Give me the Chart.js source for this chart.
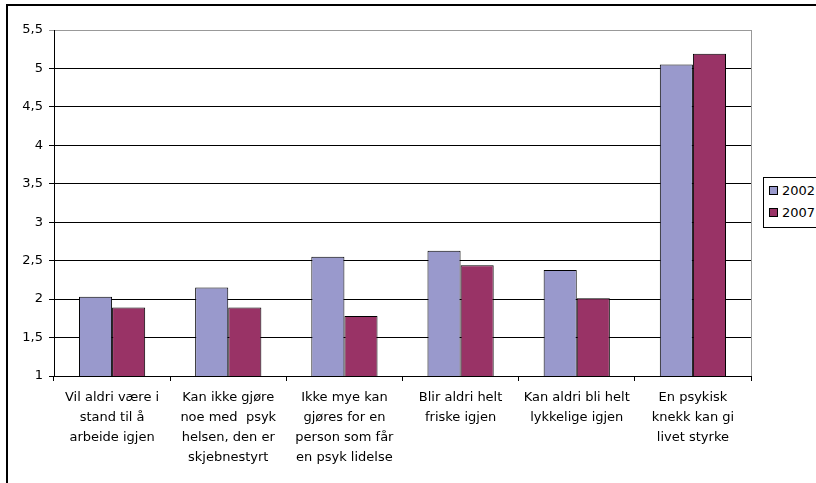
<!DOCTYPE html>
<html lang="no">
<head>
  <meta charset="UTF-8" />
  <title>Holdninger 2002 / 2007</title>
  <style>
    body { margin: 0; background: #fff; font-family: "DejaVu Sans", sans-serif; }
    #wrap { position: relative; width: 816px; height: 483px; overflow: hidden; }
    #frame { position: absolute; left: 6px; top: 4px; width: 900px; height: 600px; border: 2px solid #000; box-sizing: border-box; }
    #legend { position: absolute; left: 763px; top: 177px; width: 80px; height: 51px; border: 1px solid #000; box-sizing: border-box; background: #fff; font-size: 13px; }
    #legend div { position: absolute; left: 5px; height: 16px; line-height: 16px; white-space: nowrap; }
    #legend span { display: inline-block; width: 7px; height: 7px; border: 1px solid #000; margin-right: 4px; vertical-align: 0px; }
  </style>
</head>
<body>
<div id="wrap">
  <div id="frame"></div>
  <canvas id="myChart" width="816" height="483" style="position:absolute;left:0;top:0"></canvas>
  <div id="legend"></div>
</div>

<script src="https://cdn.jsdelivr.net/npm/chart.js"></script>
<script type="text/javascript">
  const categories = [
    ["Vil aldri være i", "stand til å", "arbeide igjen"],
    ["Kan ikke gjøre", "noe med  psyk", "helsen, den er", "skjebnestyrt"],
    ["Ikke mye kan", "gjøres for en", "person som får", "en psyk lidelse"],
    ["Blir aldri helt", "friske igjen"],
    ["Kan aldri bli helt", "lykkelige igjen"],
    ["En psykisk", "knekk kan gi", "livet styrke"]
  ];
  const seriesNames = ["2002", "2007"];
  const values2002 = [2.03, 2.15, 2.55, 2.63, 2.38, 5.05];
  const values2007 = [1.89, 1.89, 1.78, 2.44, 2.01, 5.19];
  const colors = ["#9999CC", "#993366"];

  // legend in html
  const legend = document.getElementById('legend');
  seriesNames.forEach(function (name, i) {
    const row = document.createElement('div');
    row.style.top = (5 + i * 22) + 'px';
    row.innerHTML = '<span style="background:' + colors[i] + '"></span>' + name;
    legend.appendChild(row);
  });

  const plotBorder = {
    id: 'plotBorder',
    afterDraw(chart) {
      const a = chart.chartArea, c = chart.ctx;
      c.save();
      c.strokeStyle = '#999';
      c.lineWidth = 1;
      c.beginPath();
      c.moveTo(a.right + 0.5, a.top);
      c.lineTo(a.right + 0.5, a.bottom);
      c.stroke();
      c.restore();
    }
  };

  const ctx = document.getElementById('myChart');
  new Chart(ctx, {
    type: 'bar',
    data: {
      labels: categories,
      datasets: [
        { label: seriesNames[0], data: values2002, backgroundColor: colors[0], borderColor: '#000', borderWidth: 1 },
        { label: seriesNames[1], data: values2007, backgroundColor: colors[1], borderColor: '#000', borderWidth: 1 }
      ]
    },
    options: {
      responsive: false,
      animation: false,
      layout: { padding: { left: 0, right: 65, top: 30, bottom: 0 } },
      datasets: { bar: { categoryPercentage: 0.57, barPercentage: 1.0 } },
      plugins: { legend: { display: false }, tooltip: { enabled: false } },
      scales: {
        x: {
          afterFit(scale) { scale.height = 107; },
          border: { color: '#000', width: 1 },
          grid: { offset: true, drawOnChartArea: false, drawTicks: true, tickLength: 5, color: '#000' },
          ticks: { color: '#000', font: { family: 'DejaVu Sans', size: 13, lineHeight: 1.54 }, maxRotation: 0, autoSkip: false, padding: 7 }
        },
        y: {
          min: 1,
          max: 5.5,
          afterFit(scale) { scale.width = 54; },
          border: { color: '#000', width: 1 },
          grid: {
            color: function (c) { return c.tick && c.tick.value === 5.5 ? '#999' : '#000'; },
            tickLength: 5
          },
          ticks: {
            stepSize: 0.5,
            color: '#000',
            font: { family: 'DejaVu Sans', size: 13 },
            padding: 6,
            callback: function (v) { return String(v).replace('.', ','); }
          }
        }
      }
    },
    plugins: [plotBorder]
  });
</script>
</body>
</html>
